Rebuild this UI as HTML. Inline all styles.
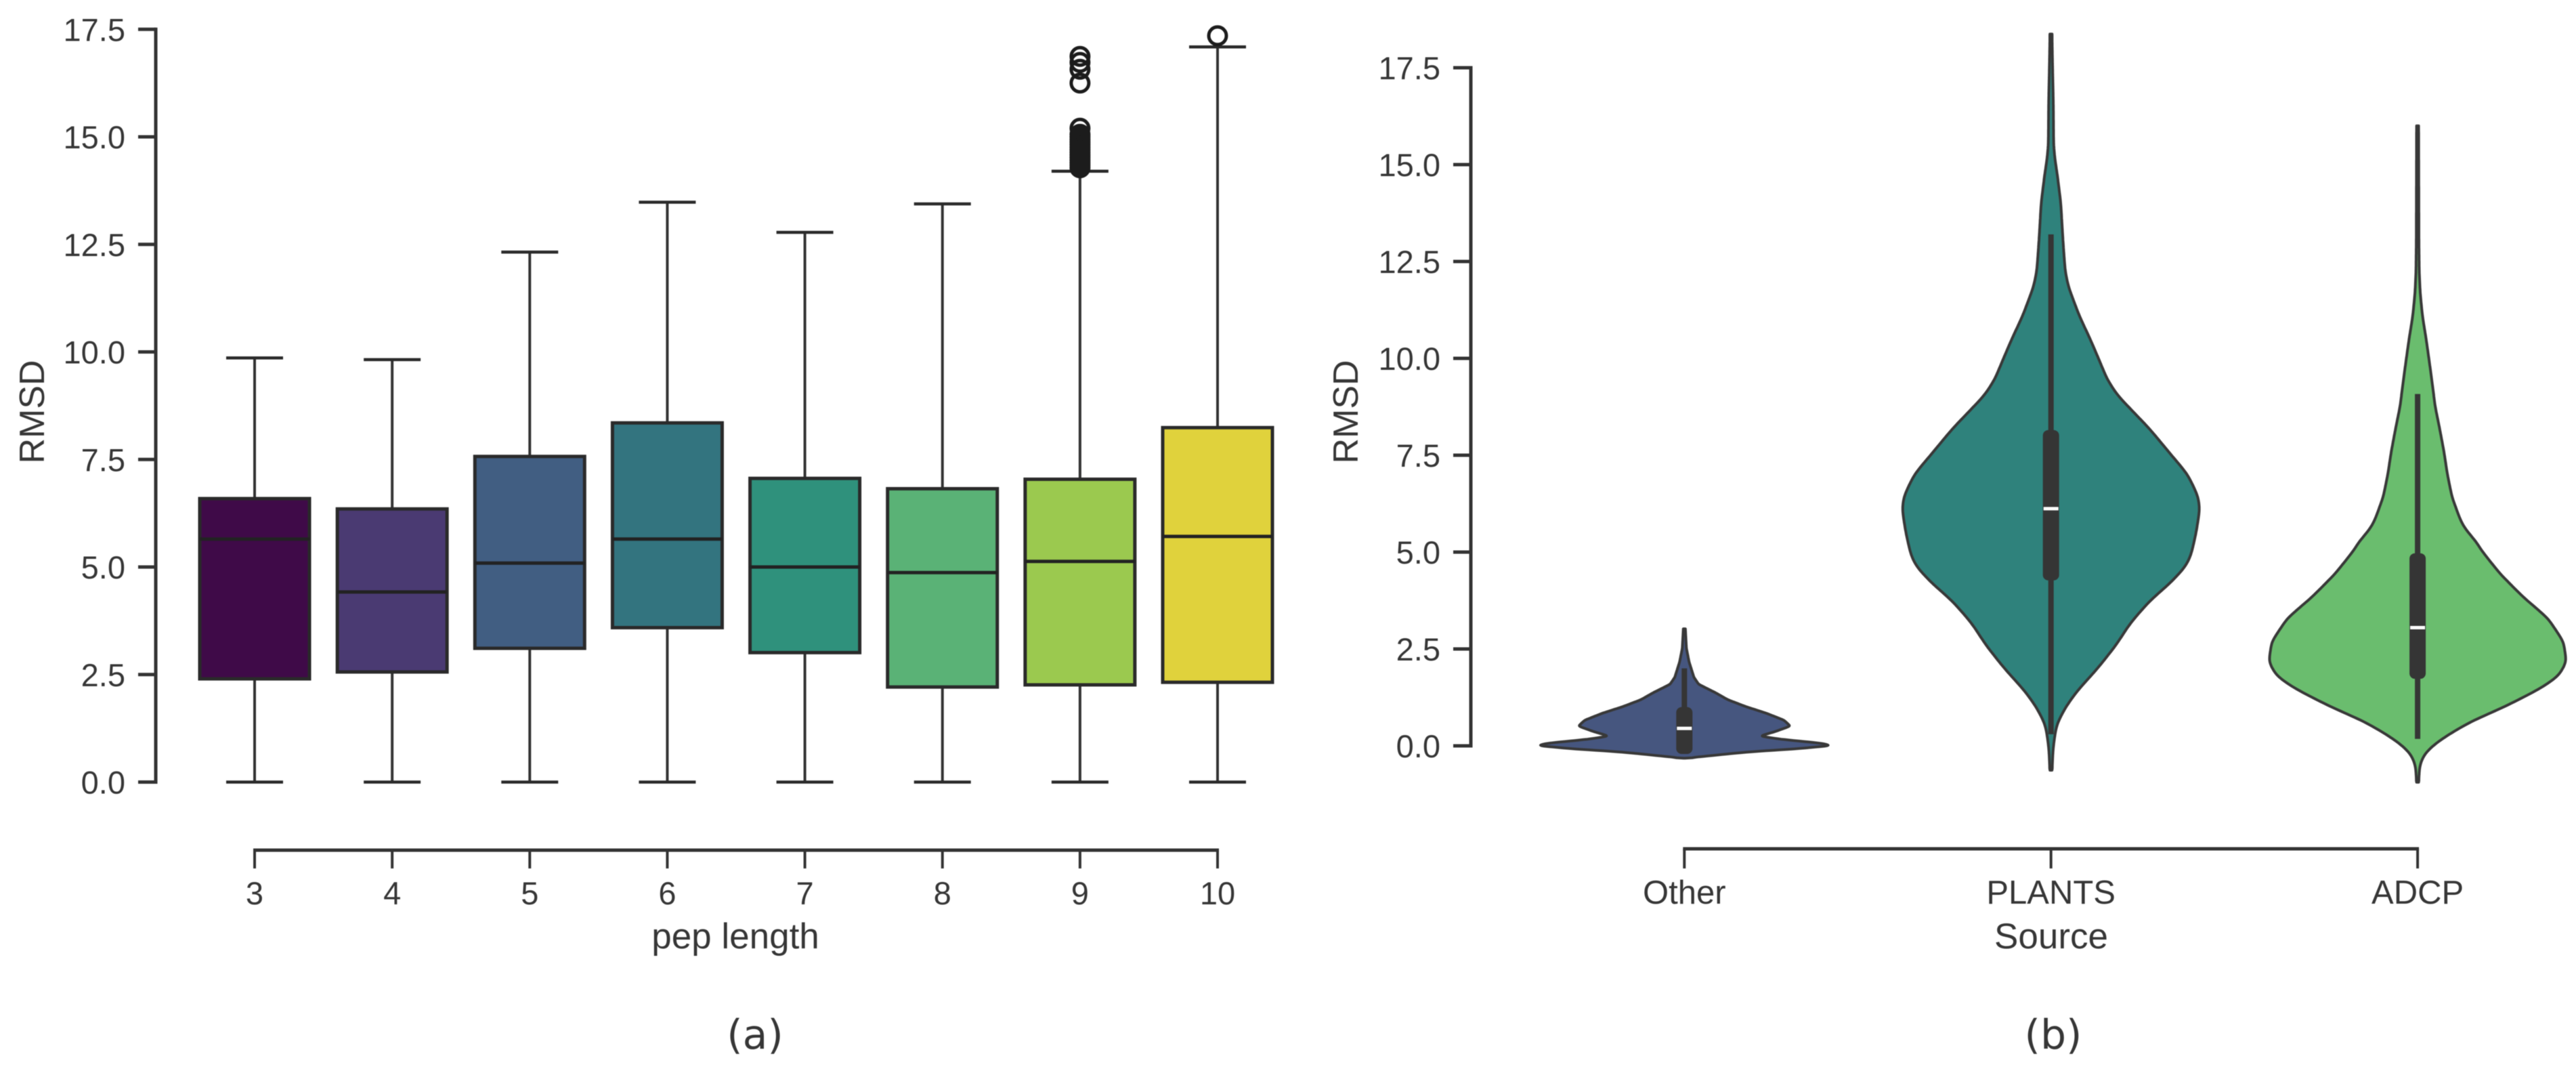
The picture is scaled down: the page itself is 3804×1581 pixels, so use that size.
<!DOCTYPE html>
<html lang="en">
<head>
<meta charset="utf-8">
<title>RMSD by peptide length and source</title>
<style>
html,body{margin:0;padding:0;background:#fff;width:3804px;height:1581px;overflow:hidden}
svg{display:block}
text{font-family:"Liberation Sans",Arial,sans-serif;fill:#363636}
.cap{font-family:"DejaVu Sans",sans-serif;font-size:60px}
</style>
</head>
<body>
<svg id="figure" xmlns="http://www.w3.org/2000/svg" width="3804" height="1581" viewBox="0 0 3804 1581">
  <rect width="3804" height="1581" fill="#fff"/>
  <g id="art" style="filter:blur(.6px)">
    <g id="panelA">
      <text transform="translate(65,608) rotate(-90)" text-anchor="middle" font-size="52">RMSD</text>
      <text x="1086" y="1400" text-anchor="middle" font-size="53">pep length</text>
      <text class="cap" x="1115" y="1548" text-anchor="middle">(a)</text>
    </g>
    <g id="panelB">
      <text transform="translate(2005,608) rotate(-90)" text-anchor="middle" font-size="52">RMSD</text>
      <text x="3029" y="1400" text-anchor="middle" font-size="53">Source</text>
      <text class="cap" x="3032" y="1548" text-anchor="middle">(b)</text>
    </g>
  </g>
</svg>
<script>
// ---- Box plot data (RMSD values) ----
const boxCategories = ['3','4','5','6','7','8','9','10'];
const boxWhiskerLow = [0,0,0,0,0,0,0,0];
const boxQ1 = [2.40,2.56,3.11,3.59,3.01,2.21,2.26,2.32];
const boxMedian = [5.65,4.42,5.09,5.65,5.00,4.87,5.13,5.71];
const boxQ3 = [6.59,6.35,7.57,8.35,7.06,6.82,7.04,8.24];
const boxWhiskerHigh = [9.86,9.82,12.32,13.48,12.78,13.44,14.20,17.09];
const boxColors = ['#3f0a48','#4a3a72','#415e82','#33747f','#2f917c','#5ab276','#9bc94f','#e0d23c'];
const outliers9 = [14.28,14.34,14.40,14.46,14.52,14.58,14.64,14.70,14.76,14.82,14.88,14.94,15.00,15.06,15.20,16.25,16.57,16.73,16.87];
const outliers10 = [17.35];
const rmsdTicks = ['0.0','2.5','5.0','7.5','10.0','12.5','15.0','17.5'];

// ---- Violin plot data (RMSD level and relative density) ----
const violinCategories = ['Other','PLANTS','ADCP'];
const violinColors = ['#46567f','#2f827c','#6abd6e'];
const otherLevels = [-0.32,-0.274,-0.215,-0.157,-0.082,0.005,0.07,0.16,0.25,0.37,0.51,0.66,0.84,1.01,1.19,1.36,1.59,1.77,2.17,2.52,3.02];
const otherDensity = [0.005,0.124,0.281,0.433,0.742,1.0,0.926,0.677,0.511,0.618,0.719,0.677,0.558,0.419,0.295,0.217,0.097,0.065,0.032,0.014,0.007];
const plantsLevels = [-0.63,-0.04,0.54,1.01,1.42,2.0,2.59,3.16,3.74,4.21,4.62,4.91,5.5,6.1,6.43,7.01,7.59,8.18,9.05,9.46,9.93,10.5,11.09,11.85,12.26,13.13,14.0,14.8,15.1,15.5,16.57,17.5,18.37];
const plantsDensity = [0.007,0.015,0.037,0.101,0.179,0.317,0.44,0.537,0.67,0.812,0.913,0.95,0.985,1.01,1.0,0.927,0.798,0.67,0.45,0.381,0.33,0.266,0.193,0.118,0.096,0.08,0.067,0.041,0.028,0.018,0.016,0.011,0.007];
const adcpLevels = [-0.94,-0.51,-0.21,0.07,0.37,0.66,0.94,1.24,1.54,1.82,2.17,2.69,3.29,3.86,4.44,5.03,5.26,5.61,5.84,6.43,7.01,7.59,8.18,8.76,9.34,9.93,10.5,11.09,11.67,12.26,13.0,16.0];
const adcpDensity = [0.007,0.014,0.046,0.124,0.244,0.381,0.551,0.712,0.859,0.96,1.01,0.99,0.885,0.711,0.56,0.436,0.399,0.321,0.289,0.233,0.202,0.179,0.15,0.119,0.1,0.079,0.058,0.033,0.018,0.011,0.009,0.007];
const violinWhiskerLow = [0,0.3,0.18];
const violinQ1 = [-0.21,4.27,1.73];
const violinMedian = [0.45,6.12,3.05];
const violinQ3 = [1.0,8.15,4.97];
const violinWhiskerHigh = [2.0,13.2,9.08];

// ---- Axis functions ----
const yA = v => 1154.5 - v * 63.5;
const xA = i => 376 + i * 203.14;
const yB = v => 1101 - v * 57.2;
const xB = i => 2487.3 + i * 541.4;
const violinHalfWidth = 217.6;

const NS = 'http://www.w3.org/2000/svg';
const artA = document.getElementById('panelA');
const artB = document.getElementById('panelB');

function line(parent, x1, y1, x2, y2, color, width, cap) {
  const el = document.createElementNS(NS, 'line');
  el.setAttribute('x1', x1);
  el.setAttribute('y1', y1);
  el.setAttribute('x2', x2);
  el.setAttribute('y2', y2);
  el.setAttribute('stroke', color);
  el.setAttribute('stroke-width', width);
  el.setAttribute('stroke-linecap', cap || 'butt');
  parent.appendChild(el);
  return el;
}
function label(parent, x, y, str, anchor, size) {
  const el = document.createElementNS(NS, 'text');
  el.setAttribute('x', x);
  el.setAttribute('y', y);
  el.setAttribute('text-anchor', anchor);
  el.setAttribute('font-size', size);
  el.textContent = str;
  parent.appendChild(el);
  return el;
}
function group(parent) {
  const el = document.createElementNS(NS, 'g');
  parent.appendChild(el);
  return el;
}

// ---- Y axes ----
function drawYAxis(parent, yFn, spineX, labelX) {
  const spine = line(parent, spineX, yFn(17.5) - 2.5, spineX, yFn(0) + 2.5, '#333', 5);
  
  
  rmsdTicks.forEach(t => {
    const v = parseFloat(t);
    const tick = line(parent, spineX - 26, yFn(v), spineX, yFn(v), '#333', 5);
    
    
    const lab = label(parent, labelX, yFn(v) + 17, t, 'end', 47);
    
    
  });
}
drawYAxis(artA, yA, 230, 185);
drawYAxis(artB, yB, 2172, 2127);

// ---- X axes ----
function drawXAxis(parent, cats, xFn, axisY, labelSize, labelY) {
  const spine = line(parent, xFn(0) - 2, axisY, xFn(cats.length - 1) + 2, axisY, '#333', 5);
  
  
  cats.forEach((c, i) => {
    const tick = line(parent, xFn(i), axisY, xFn(i), 1282, '#333', 4);
    
    
    const lab = label(parent, xFn(i), labelY, c, 'middle', labelSize);
    
    
  });
}
drawXAxis(artA, boxCategories, xA, 1255, 47, 1335);
drawXAxis(artB, violinCategories, xB, 1253, 49, 1334);

// ---- Box plots ----
const boxHalf = 81, capHalf = 42;
boxCategories.forEach((c, i) => {
  const g = group(artA);
  
  
  const cx = xA(i);
  const stroke = '#2a2a2a';
  const whiskerHi = line(g, cx, yA(boxQ3[i]), cx, yA(boxWhiskerHigh[i]), '#333', 4);
  
  
  const whiskerLo = line(g, cx, yA(boxQ1[i]), cx, yA(boxWhiskerLow[i]), '#333', 4);
  
  
  const capHi = line(g, cx - capHalf, yA(boxWhiskerHigh[i]), cx + capHalf, yA(boxWhiskerHigh[i]), '#2a2a2a', 4.5);
  
  
  const capLo = line(g, cx - capHalf, yA(boxWhiskerLow[i]), cx + capHalf, yA(boxWhiskerLow[i]), '#2a2a2a', 4.5);
  
  
  const r = document.createElementNS(NS, 'rect');
  r.setAttribute('x', cx - boxHalf);
  r.setAttribute('y', yA(boxQ3[i]));
  r.setAttribute('width', boxHalf * 2);
  r.setAttribute('height', yA(boxQ1[i]) - yA(boxQ3[i]));
  r.setAttribute('fill', boxColors[i]);
  r.setAttribute('stroke', stroke);
  r.setAttribute('stroke-width', 5);
  
  
  g.appendChild(r);
  const med = line(g, cx - boxHalf, yA(boxMedian[i]), cx + boxHalf, yA(boxMedian[i]), '#222', 5);
  
  
});

function drawOutliers(values, i) {
  values.forEach(v => {
    const c = document.createElementNS(NS, 'circle');
    c.setAttribute('cx', xA(i));
    c.setAttribute('cy', yA(v));
    c.setAttribute('r', 13);
    c.setAttribute('fill', 'none');
    c.setAttribute('stroke', '#1c1c1c');
    c.setAttribute('stroke-width', 5);
    
    
    artA.appendChild(c);
  });
}
drawOutliers(outliers9, 6);
drawOutliers(outliers10, 7);

// ---- Violins ----
// Density between the read levels is linearly interpolated, then smoothed along RMSD
// the way a kernel density curve is, so the outline stays free of reading noise.
function densityAt(levels, density, v) {
  if (v <= levels[0]) return density[0];
  for (let k = 0; k < levels.length - 1; k++) {
    if (v <= levels[k + 1]) {
      const t = (v - levels[k]) / (levels[k + 1] - levels[k]);
      return density[k] + t * (density[k + 1] - density[k]);
    }
  }
  return density[density.length - 1];
}
function smoothOutline(levels, density, step, sigma) {
  const lo = levels[0], hi = levels[levels.length - 1], out = [];
  const inner = sigma / 6;
  for (let v = lo; v < hi; v += step) {
    let sum = 0, wt = 0;
    for (let u = v - 3 * sigma; u <= v + 3 * sigma; u += inner) {
      if (u < lo || u > hi) continue;
      const w = Math.exp(-0.5 * ((u - v) / sigma) * ((u - v) / sigma));
      sum += w * densityAt(levels, density, u);
      wt += w;
    }
    out.push([v, sum / wt]);
  }
  out.push([hi, density[density.length - 1]]);
  out[0][1] = density[0];
  return out;
}
function drawViolin(i, levels, density, step, sigma) {
  const g = group(artB);
  
  
  const cx = xB(i);
  const outline = smoothOutline(levels, density, step, sigma);
  const right = outline.map(p => (cx + p[1] * violinHalfWidth).toFixed(1) + ' ' + yB(p[0]).toFixed(1));
  const left = outline.map(p => (cx - p[1] * violinHalfWidth).toFixed(1) + ' ' + yB(p[0]).toFixed(1)).reverse();
  const body = document.createElementNS(NS, 'path');
  body.setAttribute('d', 'M' + right.concat(left).join(' L') + ' Z');
  body.setAttribute('fill', violinColors[i]);
  body.setAttribute('stroke', '#383838');
  body.setAttribute('stroke-width', 4);
  body.setAttribute('stroke-linejoin', 'round');
  
  
  g.appendChild(body);
  const whisker = line(g, cx, yB(violinWhiskerLow[i]), cx, yB(violinWhiskerHigh[i]), '#353535', 8);
  
  
  const iqr = document.createElementNS(NS, 'rect');
  iqr.setAttribute('x', cx - 12);
  iqr.setAttribute('y', yB(violinQ3[i]));
  iqr.setAttribute('width', 24);
  iqr.setAttribute('height', yB(violinQ1[i]) - yB(violinQ3[i]));
  iqr.setAttribute('rx', 8);
  iqr.setAttribute('fill', '#353535');
  
  
  g.appendChild(iqr);
  const med = line(g, cx - 11, yB(violinMedian[i]), cx + 11, yB(violinMedian[i]), '#ffffff', 5);
  
  
}
drawViolin(0, otherLevels, otherDensity, 0.012, 0.018);
drawViolin(1, plantsLevels, plantsDensity, 0.04, 0.14);
drawViolin(2, adcpLevels, adcpDensity, 0.04, 0.1);
</script>
</body>
</html>
